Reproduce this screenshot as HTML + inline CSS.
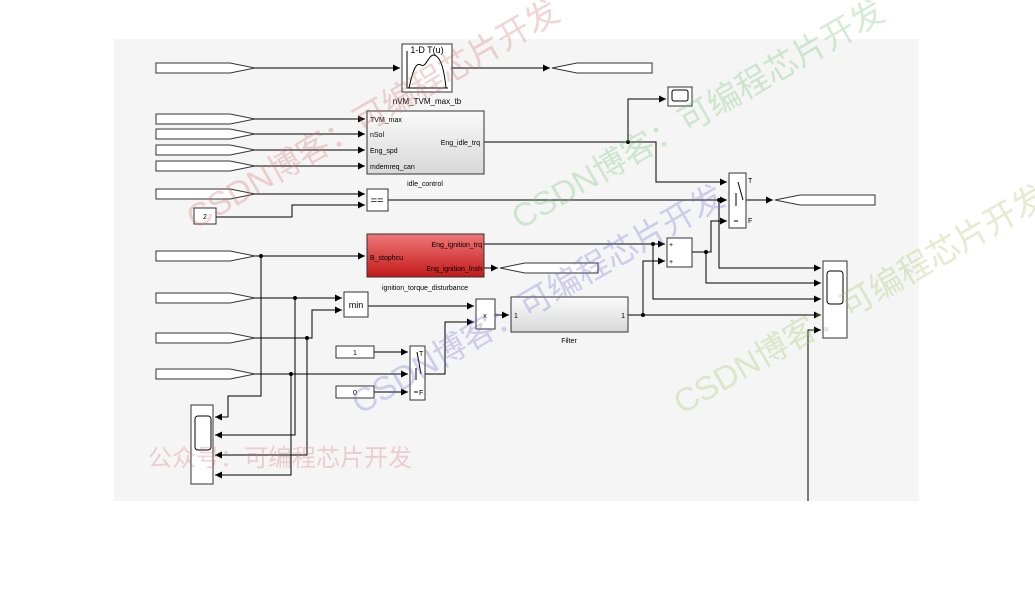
<!DOCTYPE html>
<html><head><meta charset="utf-8"><style>
html,body{margin:0;padding:0;background:#fff;width:1035px;height:604px;overflow:hidden}
svg{display:block}
text{font-family:"Liberation Sans",sans-serif}
.wm{font-family:"Liberation Sans","Noto Sans CJK SC",sans-serif;font-size:33px}
</style></head><body>
<svg width="1035" height="604" viewBox="0 0 1035 604" xmlns="http://www.w3.org/2000/svg">
<defs>
<marker id="a" markerWidth="8" markerHeight="8" refX="7" refY="4" orient="auto" markerUnits="userSpaceOnUse"><path d="M0,0.5 L7,4 L0,7.5z" fill="#000"/></marker>
<linearGradient id="g" x1="0" y1="0" x2="0" y2="1"><stop offset="0" stop-color="#fafafa"/><stop offset="1" stop-color="#d8d8d8"/></linearGradient>
<linearGradient id="r" x1="0" y1="0" x2="0" y2="1"><stop offset="0" stop-color="#ee7777"/><stop offset="1" stop-color="#c41a1a"/></linearGradient>
</defs>
<rect x="114" y="39" width="805" height="462" fill="#f5f5f5"/>

<g fill="#fff" stroke="#333" stroke-width="1">
<path d="M156,63 H230 L255,68 L230,73 H156Z"/>
<path d="M156,114 H230 L255,119 L230,124 H156Z"/>
<path d="M156,129 H230 L255,134 L230,139 H156Z"/>
<path d="M156,145 H230 L255,150 L230,155 H156Z"/>
<path d="M156,161 H230 L255,166 L230,171 H156Z"/>
<path d="M156,189 H230 L255,194 L230,199 H156Z"/>
<path d="M156,251 H230 L255,256 L230,261 H156Z"/>
<path d="M156,293 H230 L255,298 L230,303 H156Z"/>
<path d="M156,333 H230 L255,338 L230,343 H156Z"/>
<path d="M156,369 H230 L255,374 L230,379 H156Z"/>
<path d="M552,68 L577,63 H652 V73 H577Z"/>
<path d="M775,200 L800,195 H875 V205 H800Z"/>
<path d="M500,268 L525,263 H598 V273 H525Z"/>
</g>

<g fill="none" stroke="#000" stroke-width="1">
<line x1="255" y1="68" x2="400" y2="68" marker-end="url(#a)"/>
<line x1="452" y1="68" x2="550" y2="68" marker-end="url(#a)"/>
<line x1="255" y1="119" x2="365" y2="119" marker-end="url(#a)"/>
<line x1="255" y1="134" x2="365" y2="134" marker-end="url(#a)"/>
<line x1="255" y1="150" x2="365" y2="150" marker-end="url(#a)"/>
<line x1="255" y1="166" x2="365" y2="166" marker-end="url(#a)"/>
<line x1="255" y1="194" x2="365" y2="194" marker-end="url(#a)"/>
<polyline points="216,217 292,217 292,205 365,205" marker-end="url(#a)"/>
<line x1="484" y1="142" x2="628" y2="142"/>
<polyline points="628,142 628,99 666,99" marker-end="url(#a)"/>
<polyline points="628,142 656,142 656,182 727,182" marker-end="url(#a)"/>
<line x1="388" y1="200" x2="727" y2="200" marker-end="url(#a)"/>
<polyline points="719,200 719,268 821,268" marker-end="url(#a)"/>
<line x1="746" y1="200" x2="773" y2="200" marker-end="url(#a)"/>
<line x1="255" y1="256" x2="365" y2="256" marker-end="url(#a)"/>
<line x1="484" y1="244" x2="665" y2="244" marker-end="url(#a)"/>
<line x1="484" y1="268" x2="498" y2="268" marker-end="url(#a)"/>
<polyline points="653,244 653,299 821,299" marker-end="url(#a)"/>
<polyline points="643,315 643,261 665,261" marker-end="url(#a)"/>
<line x1="692" y1="252" x2="706" y2="252"/>
<polyline points="706,252 711,252 711,221 727,221" marker-end="url(#a)"/>
<polyline points="706,252 706,283 821,283" marker-end="url(#a)"/>
<line x1="628" y1="315" x2="821" y2="315" marker-end="url(#a)"/>
<polyline points="808,501 808,330 821,330" marker-end="url(#a)"/>
<line x1="255" y1="298" x2="342" y2="298" marker-end="url(#a)"/>
<polyline points="255,338 312,338 312,310 342,310" marker-end="url(#a)"/>
<line x1="368" y1="306" x2="474" y2="306" marker-end="url(#a)"/>
<line x1="495" y1="315" x2="509" y2="315" marker-end="url(#a)"/>
<line x1="374" y1="352" x2="408" y2="352" marker-end="url(#a)"/>
<line x1="255" y1="374" x2="408" y2="374" marker-end="url(#a)"/>
<line x1="374" y1="392" x2="408" y2="392" marker-end="url(#a)"/>
<polyline points="425,374 445,374 445,322 474,322" marker-end="url(#a)"/>
<polyline points="261,256 261,396 228,396 228,417 215,417" marker-end="url(#a)"/>
<polyline points="295,298 295,435 215,435" marker-end="url(#a)"/>
<polyline points="307,338 307,455 215,455" marker-end="url(#a)"/>
<polyline points="291,374 291,475 215,475" marker-end="url(#a)"/>
</g>
<g fill="#000">
<circle cx="628" cy="142" r="2"/><circle cx="719" cy="200" r="2"/><circle cx="653" cy="244" r="2"/>
<circle cx="706" cy="252" r="2"/><circle cx="643" cy="315" r="2"/><circle cx="261" cy="256" r="2"/>
<circle cx="295" cy="298" r="2"/><circle cx="307" cy="338" r="2"/><circle cx="291" cy="374" r="2"/>
</g>

<g stroke="#333" stroke-width="1">
<rect x="402" y="44" width="50" height="48" fill="#fff"/>
<rect x="367" y="111" width="117" height="63" fill="url(#g)"/>
<rect x="367" y="189" width="21" height="22" fill="#fff"/>
<rect x="194" y="208" width="22" height="16" fill="#fff"/>
<rect x="729" y="173" width="17" height="55" fill="#fff"/>
<rect x="668" y="87" width="24" height="19" fill="#fff"/>
<rect x="367" y="234" width="117" height="43" fill="url(#r)"/>
<rect x="667" y="238" width="25" height="29" fill="#fff"/>
<rect x="823" y="261" width="24" height="77" fill="#fff"/>
<rect x="511" y="297" width="117" height="35" fill="url(#g)"/>
<rect x="476" y="299" width="19" height="30" fill="#fff"/>
<rect x="344" y="292" width="24" height="25" fill="#fff"/>
<rect x="336" y="346" width="38" height="12" fill="#fff"/>
<rect x="336" y="386" width="38" height="12" fill="#fff"/>
<rect x="410" y="346" width="15" height="54" fill="#fff"/>
<rect x="191" y="405" width="22" height="79" fill="#fff"/>
</g>
<g fill="none" stroke="#000" stroke-width="1">
<rect x="672" y="90" width="16" height="11" rx="2"/>
<rect x="827" y="271" width="16" height="33" rx="3"/>
<rect x="195" y="416" width="16" height="34" rx="3"/>
<path d="M407,51 V88 H448"/>
<path d="M409,88 C413,70 416,62 421,65 C426,68 428,56 433,55 C440,55 444,68 446,88"/>
<path d="M738,182 L743,200 M736,193 V206 M734,221 H738"/>
<path d="M417,352 L421,374 M416,368 V380 M414,392 H418"/>
</g>

<g font-size="7" fill="#000">
<text x="427" y="53" text-anchor="middle" font-size="9">1-D T(u)</text>
<text x="427" y="104" text-anchor="middle" font-size="8">nVM_TVM_max_tb</text>
<text x="370" y="122">TVM_max</text>
<text x="370" y="137">nSol</text>
<text x="370" y="153">Eng_spd</text>
<text x="370" y="169">mdemreq_can</text>
<text x="480" y="145" text-anchor="end">Eng_idle_trq</text>
<text x="425" y="186" text-anchor="middle">idle_control</text>
<text x="377" y="204" text-anchor="middle" font-size="11">==</text>
<text x="205" y="219" text-anchor="middle">2</text>
<text x="748" y="183">T</text>
<text x="748" y="223">F</text>
<text x="370" y="260">B_stophcu</text>
<text x="482" y="247" text-anchor="end">Eng_ignition_trq</text>
<text x="482" y="271" text-anchor="end">Eng_ignition_fnsh</text>
<text x="425" y="290" text-anchor="middle">ignition_torque_disturbance</text>
<text x="669" y="247">+</text><text x="669" y="264">+</text>
<text x="514" y="318">1</text><text x="625" y="318" text-anchor="end">1</text>
<text x="569" y="343" text-anchor="middle">Filter</text>
<text x="485" y="318" text-anchor="middle">x</text>
<text x="356" y="308" text-anchor="middle" font-size="9">min</text>
<text x="355" y="355" text-anchor="middle">1</text>
<text x="355" y="395" text-anchor="middle">0</text>
<text x="419" y="356">T</text>
<text x="419" y="395">F</text>
</g>

<g class="wm" opacity="0.3">
<text x="195" y="230" fill="#d07070" transform="rotate(-30 195 230)">CSDN博客：可编程芯片开发</text>
<text x="520" y="230" fill="#70c070" transform="rotate(-30 520 230)">CSDN博客：可编程芯片开发</text>
<text x="360" y="415" fill="#7070d0" transform="rotate(-30 360 415)">CSDN博客：可编程芯片开发</text>
<text x="682" y="415" fill="#a0c060" transform="rotate(-30 682 415)">CSDN博客：可编程芯片开发</text>
<text x="148" y="466" fill="#d07070" font-size="24">公众号：可编程芯片开发</text>
</g>
</svg>
</body></html>
